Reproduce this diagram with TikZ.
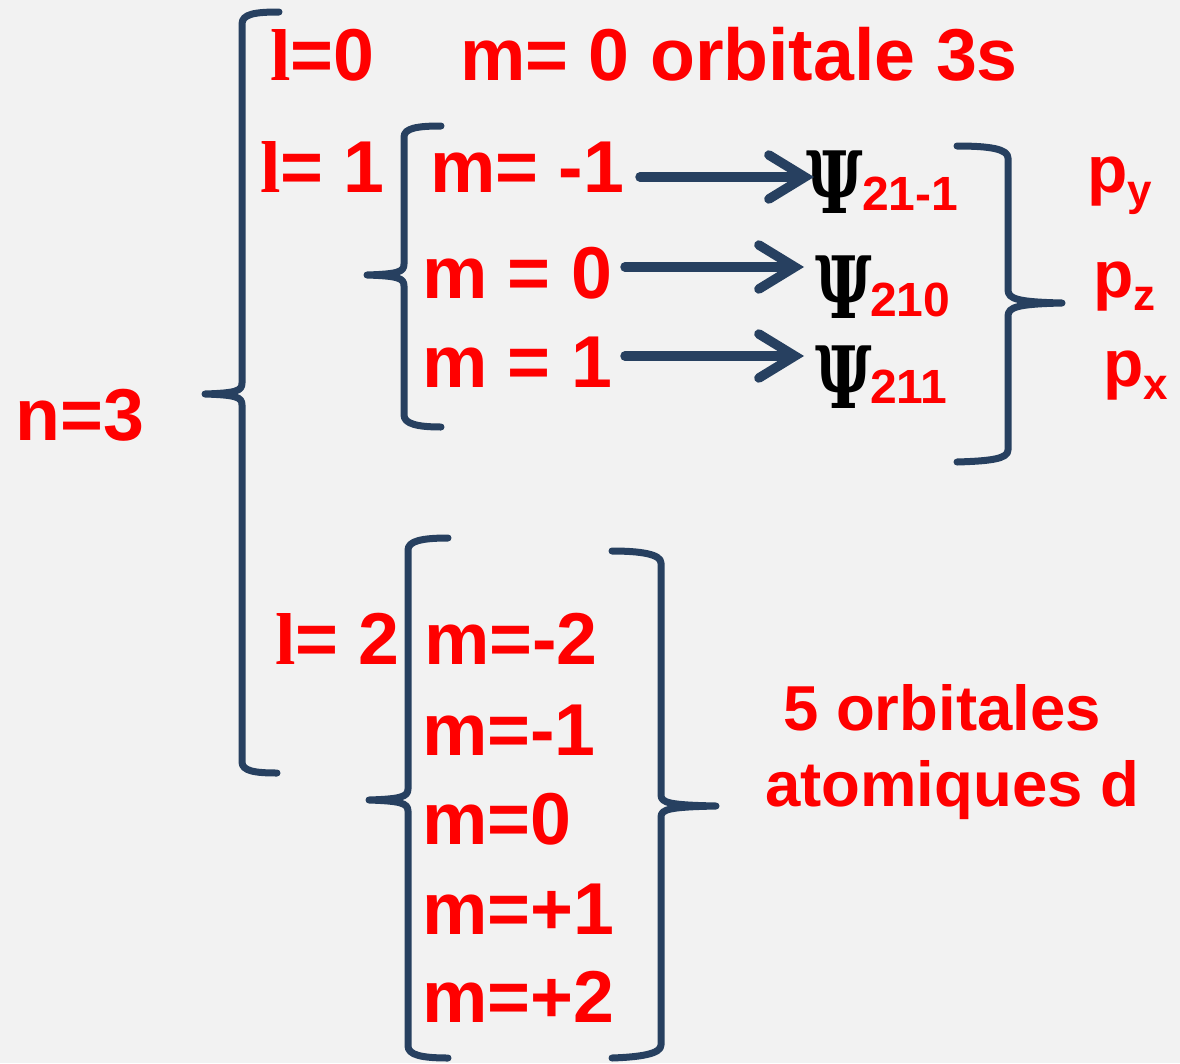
\documentclass[tikz,border=0pt]{standalone}
\usepackage{fontspec}
\setmainfont{Liberation Sans}
\newfontfamily\serifb{Liberation Serif}
\newfontfamily\psifont{DejaVu Serif}
\usetikzlibrary{arrows.meta}
\definecolor{bg}{RGB}{242,242,242}
\definecolor{navy}{RGB}{39,64,96}
\definecolor{txtred}{RGB}{255,0,0}
\begin{document}
\begin{tikzpicture}[x=1pt,y=-1pt,
  lab/.style={anchor=base west, inner sep=0pt, text=txtred, font=\fontsize{73.5}{80}\selectfont\bfseries},
  labsm/.style={anchor=base west, inner sep=0pt, text=txtred, font=\fontsize{63.5}{70}\selectfont\bfseries},
  sub/.style={anchor=base west, inner sep=0pt, text=txtred, font=\fontsize{48}{50}\selectfont\bfseries},
  plab/.style={anchor=base west, inner sep=0pt, text=txtred, font=\fontsize{66}{70}\selectfont\bfseries},
  psi/.style={anchor=base west, inner sep=0pt, text=black, font=\fontsize{86}{90}\psifont\bfseries},
  brace/.style={draw=navy, line width=7pt, line cap=round, line join=round},
  arr/.style={draw=navy, line width=9.5pt, line cap=round, -{Straight Barb[length=36pt,width=44pt,line cap=round]}}]
\fill[bg] (0,0) rectangle (1180,1063);
\useasboundingbox (0,0) rectangle (1180,1063);

% texts
\node[lab] (l0) at (270,80) {{\serifb\bfseries l}=0};
\node[lab] (m0s) at (460,80) {m= 0 orbitale 3s};
\node[lab] (l1) at (260,192) {{\serifb\bfseries l}= 1};
\node[lab] (m1a) at (430,192) {m= -1};
\node[lab] (m1b) at (422,298) {m = 0};
\node[lab] (m1c) at (422,387) {m = 1};
\node[lab] (n3) at (15,440) {n=3};
\node[lab] (l2) at (275,664) {{\serifb\bfseries l}= 2};
\node[lab] (m2a) at (424,664) {m=-2};
\node[lab] (m2b) at (422,755) {m=-1};
\node[lab] (m2c) at (422,844) {m=0};
\node[lab] (m2d) at (422,934) {m=+1};
\node[lab] (m2e) at (422,1022) {m=+2};
\node[labsm] (d1) at (783,730) {5 orbitales};
\node[labsm] (d2) at (765,806) {atomiques d};

% psi
\node[psi] (psi1) at (806,213) {\scalebox{0.72}[1]{Ψ}};
\node[psi] (psi2) at (815,318) {\scalebox{0.72}[1]{Ψ}};
\node[psi] (psi3) at (815,408) {\scalebox{0.72}[1]{Ψ}};
\node[sub] (s1) at (862,210) {21-1};
\node[sub] (s2) at (870,316) {210};
\node[sub] (s3) at (870,403) {211};

% p labels
\node[plab] (py) at (1087,192) {p\raisebox{-13pt}{\fontsize{44}{44}\selectfont y}};
\node[plab] (pz) at (1093,297) {p\raisebox{-13pt}{\fontsize{44}{44}\selectfont z}};
\node[plab] (px) at (1103,386) {p\raisebox{-13pt}{\fontsize{44}{44}\selectfont x}};

% arrows
\coordinate (a1s) at (640,177); \coordinate (a1e) at (814,177);
\coordinate (a2s) at (625,267); \coordinate (a2e) at (804,267);
\coordinate (a3s) at (625,356); \coordinate (a3e) at (804,356);
\draw[arr] (a1s) -- (a1e);
\draw[arr] (a2s) -- (a2e);
\draw[arr] (a3s) -- (a3e);

% braces
\draw[brace] (279,12) .. controls (255,12) and (242,14) .. (242,24) -- (242,383)
  .. controls (242,391) and (236,393) .. (205,394)
  .. controls (236,395) and (242,397) .. (242,405) -- (242,762)
  .. controls (242,771) and (255,773) .. (277,773);
\draw[brace] (441,126) .. controls (418,126) and (404,128) .. (404,137) -- (404,264)
  .. controls (404,272) and (398,274) .. (367,275)
  .. controls (398,276) and (404,278) .. (404,286) -- (404,415)
  .. controls (404,424) and (418,427) .. (441,427);
\draw[brace] (957,146) .. controls (990,146) and (1008,149) .. (1008,158) -- (1008,290)
  .. controls (1008,299) and (1018,302) .. (1062,303)
  .. controls (1018,304) and (1008,307) .. (1008,316) -- (1008,450)
  .. controls (1008,459) and (990,461) .. (957,462);
\draw[brace] (448,538) .. controls (422,538) and (408,541) .. (408,550) -- (408,789)
  .. controls (408,797) and (400,799) .. (369,800)
  .. controls (400,801) and (408,803) .. (408,811) -- (408,1046)
  .. controls (408,1055) and (422,1058) .. (448,1058);
\draw[brace] (612,551) .. controls (640,551) and (661,554) .. (661,563) -- (661,795)
  .. controls (661,803) and (670,805) .. (716,806)
  .. controls (670,807) and (661,809) .. (661,817) -- (661,1045)
  .. controls (661,1054) and (640,1057) .. (612,1058);
\end{tikzpicture}
\end{document}
